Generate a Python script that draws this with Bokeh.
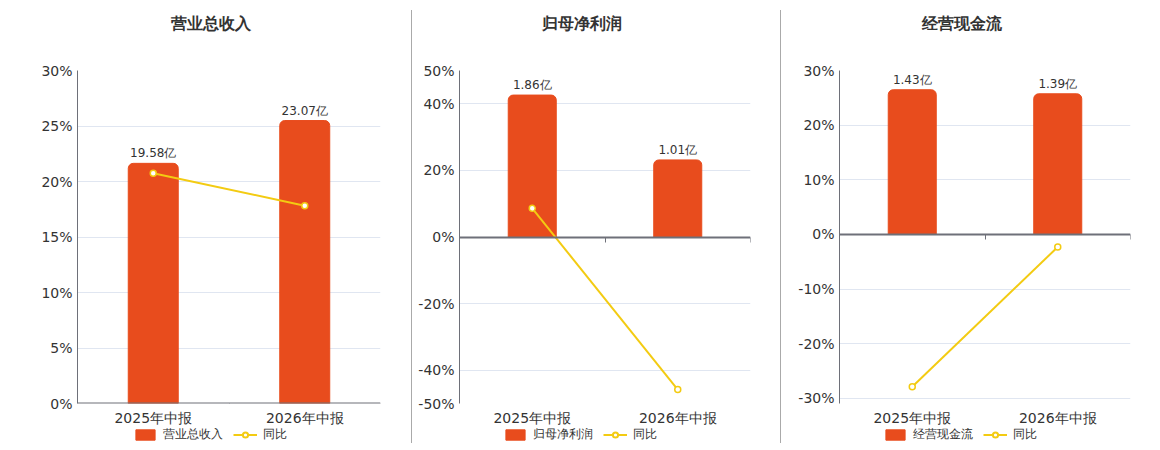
from bokeh.plotting import figure
from bokeh.models import (Range1d, LinearAxis, FixedTicker, LabelSet, Label, ColumnDataSource,
                          Legend, LegendItem, Div, PrintfTickFormatter, Grid)
from bokeh.core.properties import value
from bokeh.layouts import row, column
from bokeh.embed import file_html
from bokeh.resources import INLINE

# ---------------- data ----------------
categories = ["2025年中报", "2026年中报"]
titles = ["营业总收入", "归母净利润", "经营现金流"]
bar_values_1 = [19.58, 23.07]
bar_values_2 = [1.86, 1.01]
bar_values_3 = [1.43, 1.39]
yoy_values_1 = [20.75, 17.82]
yoy_values_2 = [8.6, -45.8]
yoy_values_3 = [-27.9, -2.3]
yoy_ticks_1 = [0, 5, 10, 15, 20, 25, 30]
yoy_ticks_2 = [-50, -40, -20, 0, 20, 40, 50]
yoy_ticks_3 = [-30, -20, -10, 0, 10, 20, 30]
yoy_range_1 = (0, 30)
yoy_range_2 = (-50, 50)
yoy_range_3 = (-30.95, 30)
bar_range_1 = (0, 27.15)
bar_range_2 = (-2.182, 2.182)
bar_range_3 = (-1.669, 1.620)
unit = "亿"
yoy_name = "同比"

BAR_COLOR = "#E84C1D"
LINE_COLOR = "#F3CB12"
AXIS_COLOR = "#6E7079"
GRID_COLOR = "#E0E6F1"
TEXT_COLOR = "#333333"
FONT = "DejaVu Sans"

panels = [
    dict(title=titles[0], bars=bar_values_1, yoy=yoy_values_1, ticks=yoy_ticks_1,
         yr=yoy_range_1, br=bar_range_1, width=411, bl=77, br_px=31, title_x=133, legend_x=56),
    dict(title=titles[1], bars=bar_values_2, yoy=yoy_values_2, ticks=yoy_ticks_2,
         yr=yoy_range_2, br=bar_range_2, width=368, bl=47, br_px=30, title_x=122, legend_x=44),
    dict(title=titles[2], bars=bar_values_3, yoy=yoy_values_3, ticks=yoy_ticks_3,
         yr=yoy_range_3, br=bar_range_3, width=371, bl=58, br_px=22, title_x=122, legend_x=44),
]

H_TITLE = 40
BT = 30
FRAME_H = 335
BB = 23
H_MAIN = BT + FRAME_H + BB
H_LEG = 20


def strip(cfg, height):
    fw = cfg["width"] - cfg["bl"] - cfg["br_px"]
    f = figure(width=cfg["width"], height=height, output_backend="svg", toolbar_location=None,
               x_range=Range1d(0, fw), y_range=Range1d(0, height),
               min_border_left=cfg["bl"], min_border_right=cfg["br_px"],
               min_border_top=0, min_border_bottom=0,
               x_axis_location=None, y_axis_location=None)
    f.outline_line_color = None
    f.xgrid.visible = False
    f.ygrid.visible = False
    return f


def make_panel(cfg):
    # ---- title strip ----
    tf = strip(cfg, H_TITLE)
    tf.add_layout(Label(x=cfg["title_x"], y=H_TITLE - 23, x_units="screen", y_units="screen",
                        text=cfg["title"], text_align="center", text_baseline="middle",
                        text_font=FONT, text_font_size="16px", text_font_style="bold",
                        text_color=TEXT_COLOR))

    # ---- main chart ----
    p = figure(width=cfg["width"], height=H_MAIN, output_backend="svg", toolbar_location=None,
               x_range=Range1d(0, 2), y_range=Range1d(*cfg["yr"]),
               min_border_left=cfg["bl"], min_border_right=cfg["br_px"],
               min_border_top=BT, min_border_bottom=BB,
               x_axis_location=None, y_axis_location=None)
    p.outline_line_color = None
    p.background_fill_color = "white"
    p.border_fill_color = "white"
    p.xgrid.visible = False
    p.ygrid.visible = False
    p.extra_y_ranges = {"bars": Range1d(*cfg["br"])}

    xs = [i + 0.5 for i in range(len(categories))]
    src = ColumnDataSource(dict(
        x=xs, v=cfg["bars"], yoy=cfg["yoy"],
        lab=[f"{v:.2f}{unit}" for v in cfg["bars"]],
    ))

    yaxis = LinearAxis(ticker=FixedTicker(ticks=cfg["ticks"]),
                       formatter=PrintfTickFormatter(format="%d%%"))
    yaxis.axis_line_color = AXIS_COLOR
    yaxis.axis_line_width = 1
    yaxis.major_tick_line_alpha = 0
    yaxis.minor_tick_line_alpha = 0
    yaxis.major_tick_out = 0
    yaxis.major_tick_in = 0
    yaxis.major_label_standoff = 5
    yaxis.major_label_text_font = FONT
    yaxis.major_label_text_font_size = "14px"
    yaxis.major_label_text_color = TEXT_COLOR
    p.add_layout(yaxis, "left")

    grid_ticks = list(cfg["ticks"])
    if cfg["yr"][0] not in grid_ticks:
        grid_ticks.append(cfg["yr"][0])
    g = Grid(dimension=1, ticker=FixedTicker(ticks=grid_ticks), grid_line_color=GRID_COLOR,
             grid_line_width=1)
    p.add_layout(g, "center")

    xlab = LinearAxis(ticker=FixedTicker(ticks=xs, minor_ticks=[]),
                      major_label_overrides={x: c for x, c in zip(xs, categories)})
    xlab.axis_line_alpha = 0
    xlab.major_tick_line_alpha = 0
    xlab.minor_tick_line_alpha = 0
    xlab.major_tick_out = 0
    xlab.major_tick_in = 0
    xlab.minor_tick_out = 0
    xlab.major_label_standoff = 6
    xlab.major_label_text_font = FONT
    xlab.major_label_text_font_size = "14px"
    xlab.major_label_text_color = TEXT_COLOR
    p.add_layout(xlab, "below")

    zaxis = LinearAxis(fixed_location=0,
                       ticker=FixedTicker(ticks=[], minor_ticks=[0, 1, 2]))
    zaxis.axis_line_color = AXIS_COLOR
    zaxis.axis_line_width = 2
    zaxis.major_label_text_alpha = 0
    zaxis.major_tick_line_alpha = 0
    zaxis.minor_tick_line_color = AXIS_COLOR
    zaxis.minor_tick_out = 5
    zaxis.minor_tick_in = 0
    p.add_layout(zaxis, "below")

    p.vbar(x="x", top="v", bottom=0, width=0.33, source=src, y_range_name="bars",
           fill_color=BAR_COLOR, line_color=BAR_COLOR, border_radius=(5, 5, 0, 0))

    labels = LabelSet(x="x", y="v", text="lab", source=src, y_range_name="bars",
                      y_offset=10, text_align="center", text_baseline="middle",
                      text_font=value(FONT), text_font_size=value("12px"),
                      text_color=TEXT_COLOR)
    p.add_layout(labels)

    p.line(x="x", y="yoy", source=src, line_color=LINE_COLOR, line_width=2)
    p.scatter(x="x", y="yoy", source=src, marker="circle", size=6, fill_color="white",
              line_color=LINE_COLOR, line_width=1.5)

    # ---- legend strip ----
    lf = strip(cfg, H_LEG)
    dummy = ColumnDataSource(dict(x=[float("nan")], y=[float("nan")]))
    leg_bar = lf.vbar(x="x", top="y", bottom=0, width=0.3, source=dummy,
                      fill_color=BAR_COLOR, line_color=BAR_COLOR)
    leg_line = lf.line(x="x", y="y", source=dummy, line_color=LINE_COLOR, line_width=2)
    leg_marker = lf.scatter(x="x", y="y", source=dummy, marker="circle", size=11,
                            fill_color="white", line_color=LINE_COLOR, line_width=2)
    legend = Legend(items=[LegendItem(label=cfg["title"], renderers=[leg_bar]),
                           LegendItem(label=yoy_name, renderers=[leg_line, leg_marker])],
                    orientation="horizontal", location=(cfg["legend_x"], 5))
    legend.glyph_width = 24
    legend.glyph_height = 13
    legend.label_height = 13
    legend.label_standoff = 6
    legend.spacing = 10
    legend.padding = 0
    legend.margin = 0
    legend.border_line_alpha = 0
    legend.background_fill_alpha = 0
    legend.label_text_font = FONT
    legend.label_text_font_size = "12px"
    legend.label_text_color = TEXT_COLOR
    legend.label_text_baseline = "middle"
    lf.add_layout(legend, "center")

    return column(tf, p, lf, spacing=0)


cols = [make_panel(c) for c in panels]
sep1 = Div(width=1, height=433, margin=(10, 0, 0, 0), styles={"background-color": "#AAAAAA"})
sep2 = Div(width=1, height=433, margin=(10, 0, 0, 0), styles={"background-color": "#AAAAAA"})
layout = row(cols[0], sep1, cols[1], sep2, cols[2], spacing=0)

open("out.html", "w").write(file_html(layout, INLINE))
